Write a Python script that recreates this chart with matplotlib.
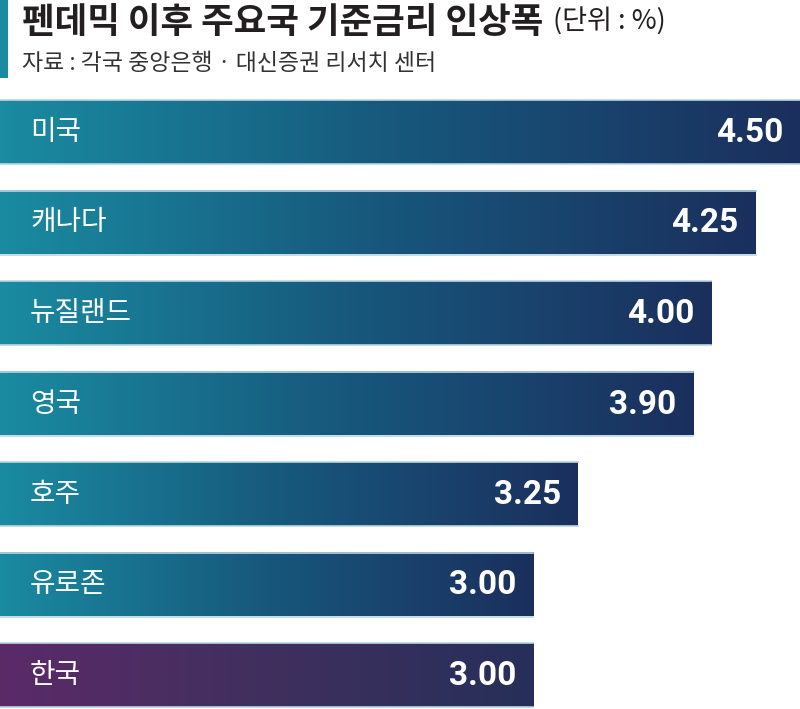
import numpy as np
import matplotlib.pyplot as plt
from matplotlib.colors import LinearSegmentedColormap

plt.rcParams['font.family'] = ['Noto Sans CJK KR', 'DejaVu Sans']

# data
countries = ['미국', '캐나다', '뉴질랜드', '영국', '호주', '유로존', '한국']
hikes = [4.50, 4.25, 4.00, 3.90, 3.25, 3.00, 3.00]
value_labels = ['4.50', '4.25', '4.00', '3.90', '3.25', '3.00', '3.00']
title = '펜데믹 이후 주요국 기준금리 인상폭'
unit = '(단위 : %)'
source = '자료 : 각국 중앙은행 · 대신증권 리서치 센터'

W, H = 800, 709
fig = plt.figure(figsize=(W / 100, H / 100), dpi=100)
ax = fig.add_axes([0, 0, 1, 1])
ax.set_xlim(0, 4.5)
ax.set_ylim(H, 0)
ax.axis('off')

teal_cmap = LinearSegmentedColormap.from_list('teal', ['#1a8ba1', '#17577c', '#1b2f5d'])
purple_cmap = LinearSegmentedColormap.from_list('purple', ['#5b2a68', '#40305e', '#262f59'])
grad = np.linspace(0, 1, 256).reshape(1, -1)

first_top = 100
step = 90.5
bar_h = 64
px = 4.5 / W  # data units per pixel in x

for i, (name, val, lab) in enumerate(zip(countries, hikes, value_labels)):
    top = first_top + i * step
    cmap = purple_cmap if name == '한국' else teal_cmap
    ax.imshow(grad, cmap=cmap, aspect='auto', extent=[0, val, top + bar_h, top],
              interpolation='bilinear', zorder=2)
    # thin light edges top and bottom
    ax.plot([0, val], [top, top], color='#b9d6e2', lw=1.2, zorder=3)
    ax.plot([0, val], [top + bar_h, top + bar_h], color='#b9d6e2', lw=1.2, zorder=3)
    ax.text(30 * px, top + bar_h / 2, name, color='white', fontsize=20,
            fontweight='medium', ha='left', va='center', zorder=4)
    ax.text(val - 17 * px, top + bar_h / 2 + 1, lab, color='white', fontsize=24,
            fontfamily='Roboto', fontweight='bold', ha='right', va='center', zorder=4)

# left accent bar of the header
ax.fill_between([0, 8 * px], 0, 78, color='#1a8ba1', zorder=2, lw=0)

t = fig.text(22 / W, 1 - 22 / H, title, fontsize=25.5, fontweight='black',
             color='#231f20', ha='left', va='center')
fig.canvas.draw()
bb = t.get_window_extent()
fig.text((bb.x1 + 10) / W, 1 - 22 / H, unit, fontsize=19.5, color='#231f20',
         ha='left', va='center')
fig.text(22 / W, 1 - 64 / H, source, fontsize=16.5, color='#333333',
         ha='left', va='center')

fig.savefig('out.png', dpi=100)
